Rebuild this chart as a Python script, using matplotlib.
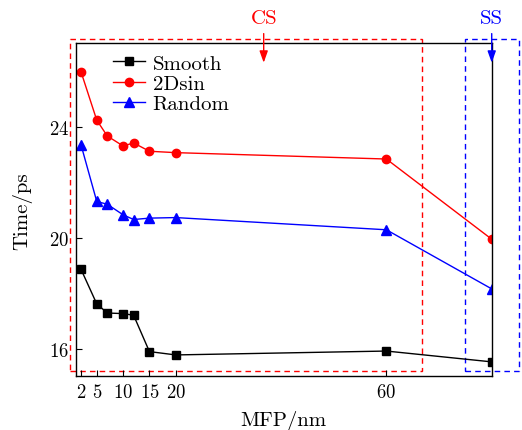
import matplotlib
matplotlib.use("Agg")
import matplotlib.pyplot as plt
from matplotlib.patches import Rectangle

plt.rcParams["font.family"] = ["cmr10", "DejaVu Serif"]
plt.rcParams["mathtext.fontset"] = "cm"
plt.rcParams["axes.formatter.use_mathtext"] = True

# Mean free path (nm) and times (ps) for each surface type
mfp = [2, 5, 7, 10, 12, 15, 20, 60, 80]
smooth = [18.86, 17.61, 17.28, 17.26, 17.20, 15.89, 15.77, 15.91, 15.52]
sin2d = [25.98, 24.23, 23.66, 23.30, 23.41, 23.11, 23.06, 22.83, 19.94]
random_ = [23.35, 21.30, 21.20, 20.82, 20.65, 20.70, 20.72, 20.28, 18.15]

xticks = [2, 5, 10, 15, 20, 60]
yticks = [16, 20, 24]

fig = plt.figure(figsize=(5.22, 4.31), dpi=100)
ax = fig.add_axes([0.145, 0.1246, 0.797, 0.7726])

ax.plot(mfp, smooth, color="black", marker="s", markersize=5.2, lw=1.0, label="Smooth")
ax.plot(mfp, sin2d, color="red", marker="o", markersize=6.0, lw=1.0, label="2Dsin")
ax.plot(mfp, random_, color="blue", marker="^", markersize=7.0, lw=1.0, label="Random")

ax.set_xlim(1, 80)
ax.set_ylim(15, 27)
ax.set_xticks(xticks)
ax.set_yticks(yticks)
ax.tick_params(direction="in", length=4, width=0.8, labelsize=13.5)
ax.tick_params(axis="x", pad=5)
ax.tick_params(axis="y", pad=5)
for s in ax.spines.values():
    s.set_linewidth(1.0)

ax.set_xlabel("MFP/nm", fontsize=15, labelpad=6)
ax.set_ylabel("Time/ps", fontsize=15, labelpad=12)

leg = ax.legend(loc="upper left", frameon=False, fontsize=15,
                bbox_to_anchor=(0.05, 1.018), handlelength=1.55,
                handletextpad=0.35, labelspacing=0.08, borderpad=0.3)

# Dashed regions for the CS and SS regimes
ax.add_patch(Rectangle((-0.1, 15.18), 66.9, 11.97, fill=False, ls=(0, (4, 3)),
                       lw=1.0, ec="red", clip_on=False))
ax.add_patch(Rectangle((74.9, 15.18), 10.2, 11.97, fill=False, ls=(0, (4, 3)),
                       lw=1.0, ec="blue", clip_on=False))

ax.annotate("", xy=(36.7, 26.2), xytext=(36.7, 27.45),
            arrowprops=dict(arrowstyle="-|>,head_length=0.7,head_width=0.25",
                            color="red", lw=1.0),
            annotation_clip=False)
ax.text(36.7, 27.9, "CS", color="red", fontsize=15, ha="center", va="center")

ax.annotate("", xy=(80, 26.2), xytext=(80, 27.45),
            arrowprops=dict(arrowstyle="-|>,head_length=0.7,head_width=0.25",
                            color="blue", lw=1.0),
            annotation_clip=False)
ax.text(80, 27.9, "SS", color="blue", fontsize=15, ha="center", va="center")

fig.savefig("out.png", dpi=100)
